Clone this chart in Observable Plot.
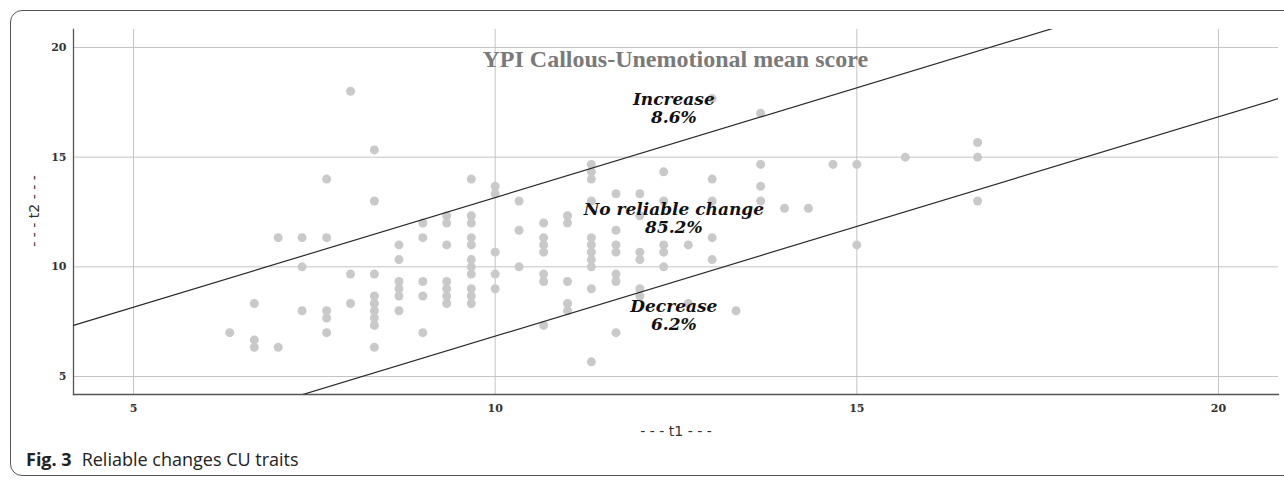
<!DOCTYPE html>
<html>
<head>
<meta charset="utf-8">
<script src="https://cdn.jsdelivr.net/npm/d3@7"></script>
<script src="https://cdn.jsdelivr.net/npm/@observablehq/plot@0.6"></script>
<style>
  html, body { margin: 0; padding: 0; background: #fff; width: 1284px; height: 481px; overflow: hidden; }
  #frame { position: absolute; left: 10px; top: 10px; width: 1320px; height: 466px; border: 1.5px solid #555; border-radius: 12px; box-sizing: border-box; }
  #chart { position: absolute; left: 0; top: 0; }
  #caption { position: absolute; left: 26px; top: 447px; font-family: "Open Sans", "Noto Sans", sans-serif; font-size: 18px; color: #222; white-space: nowrap; }
  #caption b { font-weight: 700; margin-right: 10px; }
</style>
</head>
<body>
<div id="frame"></div>
<div id="chart"></div>
<div id="caption"><b>Fig. 3</b>Reliable changes CU traits</div>
<script>
// Scores at time 1 (t1) and time 2 (t2)
const t1 = [
  6.33,
  6.67, 6.67, 6.67,
  7, 7,
  7.33, 7.33, 7.33,
  7.67, 7.67, 7.67, 7.67, 7.67,
  8, 8, 8,
  8.33, 8.33, 8.33, 8.33, 8.33, 8.33, 8.33, 8.33, 8.33,
  8.67, 8.67, 8.67, 8.67, 8.67, 8.67,
  9, 9, 9, 9, 9,
  9.33, 9.33, 9.33, 9.33, 9.33, 9.33, 9.33,
  9.67, 9.67, 9.67, 9.67, 9.67, 9.67, 9.67, 9.67, 9.67, 9.67, 9.67,
  10, 10, 10, 10, 10,
  10.33, 10.33, 10.33,
  10.67, 10.67, 10.67, 10.67, 10.67, 10.67, 10.67,
  11, 11, 11, 11, 11,
  11.33, 11.33, 11.33, 11.33, 11.33, 11.33, 11.33, 11.33, 11.33, 11.33, 11.33,
  11.67, 11.67, 11.67, 11.67, 11.67, 11.67, 11.67,
  12, 12, 12, 12, 12, 12,
  12.33, 12.33, 12.33, 12.33, 12.33,
  12.67, 12.67,
  13, 13, 13, 13, 13,
  13.33,
  13.67, 13.67, 13.67, 13.67,
  14,
  14.33,
  14.67,
  15, 15,
  15.67,
  16.67, 16.67, 16.67
];
const t2 = [
  7,
  8.33, 6.67, 6.33,
  11.33, 6.33,
  11.33, 10, 8,
  14, 11.33, 8, 7.67, 7,
  18, 9.67, 8.33,
  15.33, 13, 9.67, 8.67, 8.33, 8, 7.67, 7.33, 6.33,
  11, 10.33, 9.33, 9, 8.67, 8,
  12, 11.33, 9.33, 8.67, 7,
  12.33, 12, 11, 9.33, 9, 8.67, 8.33,
  14, 12.33, 12, 11.33, 11, 10.33, 10, 9.67, 9, 8.67, 8.33,
  13.67, 13.33, 10.67, 9.67, 9,
  13, 11.67, 10,
  12, 11.33, 11, 10.67, 9.67, 9.33, 7.33,
  12.33, 12, 9.33, 8.33, 8,
  14.67, 14.33, 14, 13, 11.33, 11, 10.67, 10.33, 10, 9, 5.67,
  13.33, 11.67, 11, 10.67, 9.67, 9.33, 7,
  13.33, 12.33, 10.67, 10.33, 9, 8.67,
  14.33, 13, 11, 10.67, 10,
  11, 8.33,
  17.67, 14, 13, 11.33, 10.33,
  8,
  17, 14.67, 13.67, 13,
  12.67,
  12.67,
  14.67,
  14.67, 11,
  15,
  15.67, 15, 13
];
// Reliable change threshold (band half-width)
const rciThreshold = 3.16;
const axisTicks = [5, 10, 15, 20];
const xDomain = [4.17, 20.83];
const yDomain = [4.18, 20.82];
const regionLabels = ["Increase\n8.6%", "No reliable change\n85.2%", "Decrease\n6.2%"];
const regionLabelX = [12.47, 12.47, 12.47];
const regionLabelY = [17.22, 12.22, 7.8];
const chartTitle = "YPI Callous-Unemotional mean score";
const xTitle = "- - - t1 - - -";
const yTitle = "- - - t2 - - -";

const points = t1.map((v, i) => ({t1: v, t2: t2[i]}));
const bandLines = [
  {name: "upper", off: rciThreshold},
  {name: "lower", off: -rciThreshold}
].flatMap(d => xDomain.map(x => ({name: d.name, x, y: x + d.off})));
const labels = regionLabels.map((t, i) => ({t, x: regionLabelX[i], y: regionLabelY[i]}));

const chart = Plot.plot({
  width: 1284,
  height: 440,
  marginLeft: 73,
  marginRight: 6,
  marginTop: 29,
  marginBottom: 46,
  style: {fontFamily: "'DejaVu Serif', serif", background: "transparent", overflow: "visible"},
  x: {domain: xDomain, ticks: axisTicks, label: null},
  y: {domain: yDomain, ticks: axisTicks, label: null},
  marks: [
    Plot.gridX(axisTicks, {stroke: "#c4c4c4", strokeOpacity: 1, strokeWidth: 1}),
    Plot.gridY(axisTicks, {stroke: "#c4c4c4", strokeOpacity: 1, strokeWidth: 1}),
    Plot.frame({anchor: "left", stroke: "#555", strokeWidth: 1.3}),
    Plot.frame({anchor: "bottom", stroke: "#555", strokeWidth: 1.3}),
    Plot.axisX(axisTicks, {tickSize: 0, tickPadding: 10, fontSize: 11, fontWeight: "bold", fill: "#333", label: null}),
    Plot.axisY(axisTicks, {tickSize: 0, tickPadding: 7, fontSize: 11, fontWeight: "bold", fill: "#333", label: null}),
    Plot.dot(points, {x: "t1", y: "t2", r: 4.5, fill: "#c9c9c9", stroke: "none"}),
    Plot.line(bandLines, {x: "x", y: "y", z: "name", stroke: "#2a2a2a", strokeWidth: 1.2, clip: true}),
    Plot.text([chartTitle], {x: [12.49], y: [19.47], text: d => d, fontSize: 24, fontWeight: "bold", fill: "#7a7a7a", fontFamily: "'Liberation Serif', serif"}),
    Plot.text(labels, {x: "x", y: "y", text: "t", fontSize: 17, fontWeight: "bold", fontStyle: "italic", fill: "#111", lineHeight: 1.05, fontFamily: "'DejaVu Serif', serif"}),
    Plot.text([xTitle], {frameAnchor: "bottom", dy: 41, text: d => d, fontSize: 14, fill: "#333", fontFamily: "'DejaVu Sans', sans-serif"})
  ]
});
document.getElementById("chart").appendChild(chart);

// y axis title, centred on the plot frame
d3.select(chart).append("text")
  .attr("transform", "translate(35,211) rotate(-90)")
  .attr("text-anchor", "middle")
  .attr("dominant-baseline", "middle")
  .attr("font-family", "'DejaVu Sans', sans-serif")
  .attr("font-size", 14)
  .attr("fill", "#333")
  .text(yTitle);
</script>
</body>
</html>
